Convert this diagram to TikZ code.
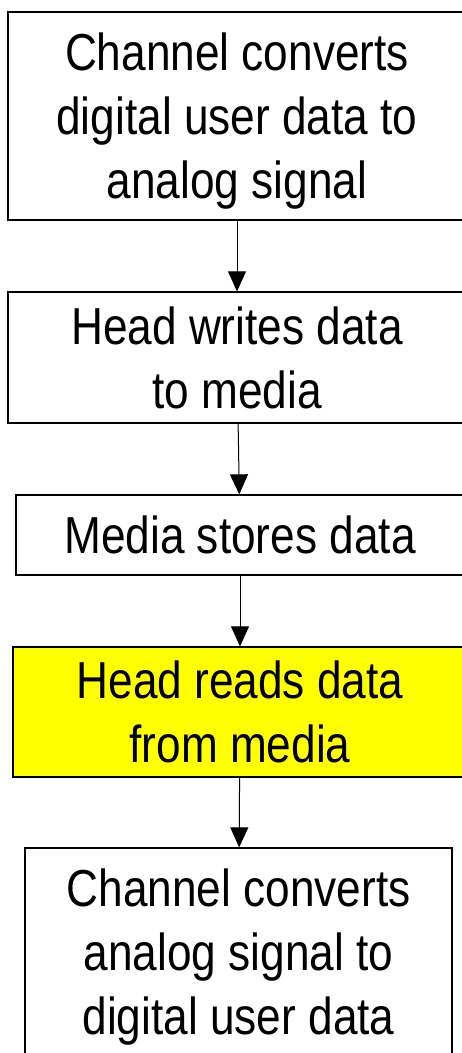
\documentclass[tikz,border=0pt]{standalone}
\usepackage{fontspec}
\setmainfont{Liberation Sans}[FakeStretch=0.85]
\usepackage{tikz}
\usetikzlibrary{arrows.meta, positioning}
\definecolor{hiyellow}{RGB}{255,255,0}

\begin{document}
\begin{tikzpicture}[
  x=1pt, y=-1pt,
  stage/.style={draw, line width=1.3pt, inner sep=0pt, align=center,
    text depth=0pt, font=\fontsize{52}{64}\selectfont},
  readstage/.style={stage, fill=hiyellow},
  arr/.style={-{Triangle[width=18pt,length=20pt]}, line width=1pt}
]
  \useasboundingbox (0,0) rectangle (461,1053);
  \node[stage, minimum width=458, minimum height=208] (conv)  at (237,116)
    {Channel converts\\digital user data to\\analog signal};
  \node[stage, minimum width=458, minimum height=131] (write) at (237,357.5)
    {Head writes data\\to media};
  \node[stage, minimum width=448, minimum height=80]  (store) at (240,535)
    {Media stores data};
  \node[readstage, minimum width=454, minimum height=130] (read) at (240,712)
    {Head reads data\\from media};
  \node[stage, minimum width=427, minimum height=208] (back)  at (238.5,952)
    {Channel converts\\analog signal to\\digital user data};
  \draw[arr] (conv)  -- (write);
  \draw[arr] (write) -- (store);
  \draw[arr] (store) -- (read);
  \draw[arr] (read)  -- (back);
\end{tikzpicture}
\end{document}
